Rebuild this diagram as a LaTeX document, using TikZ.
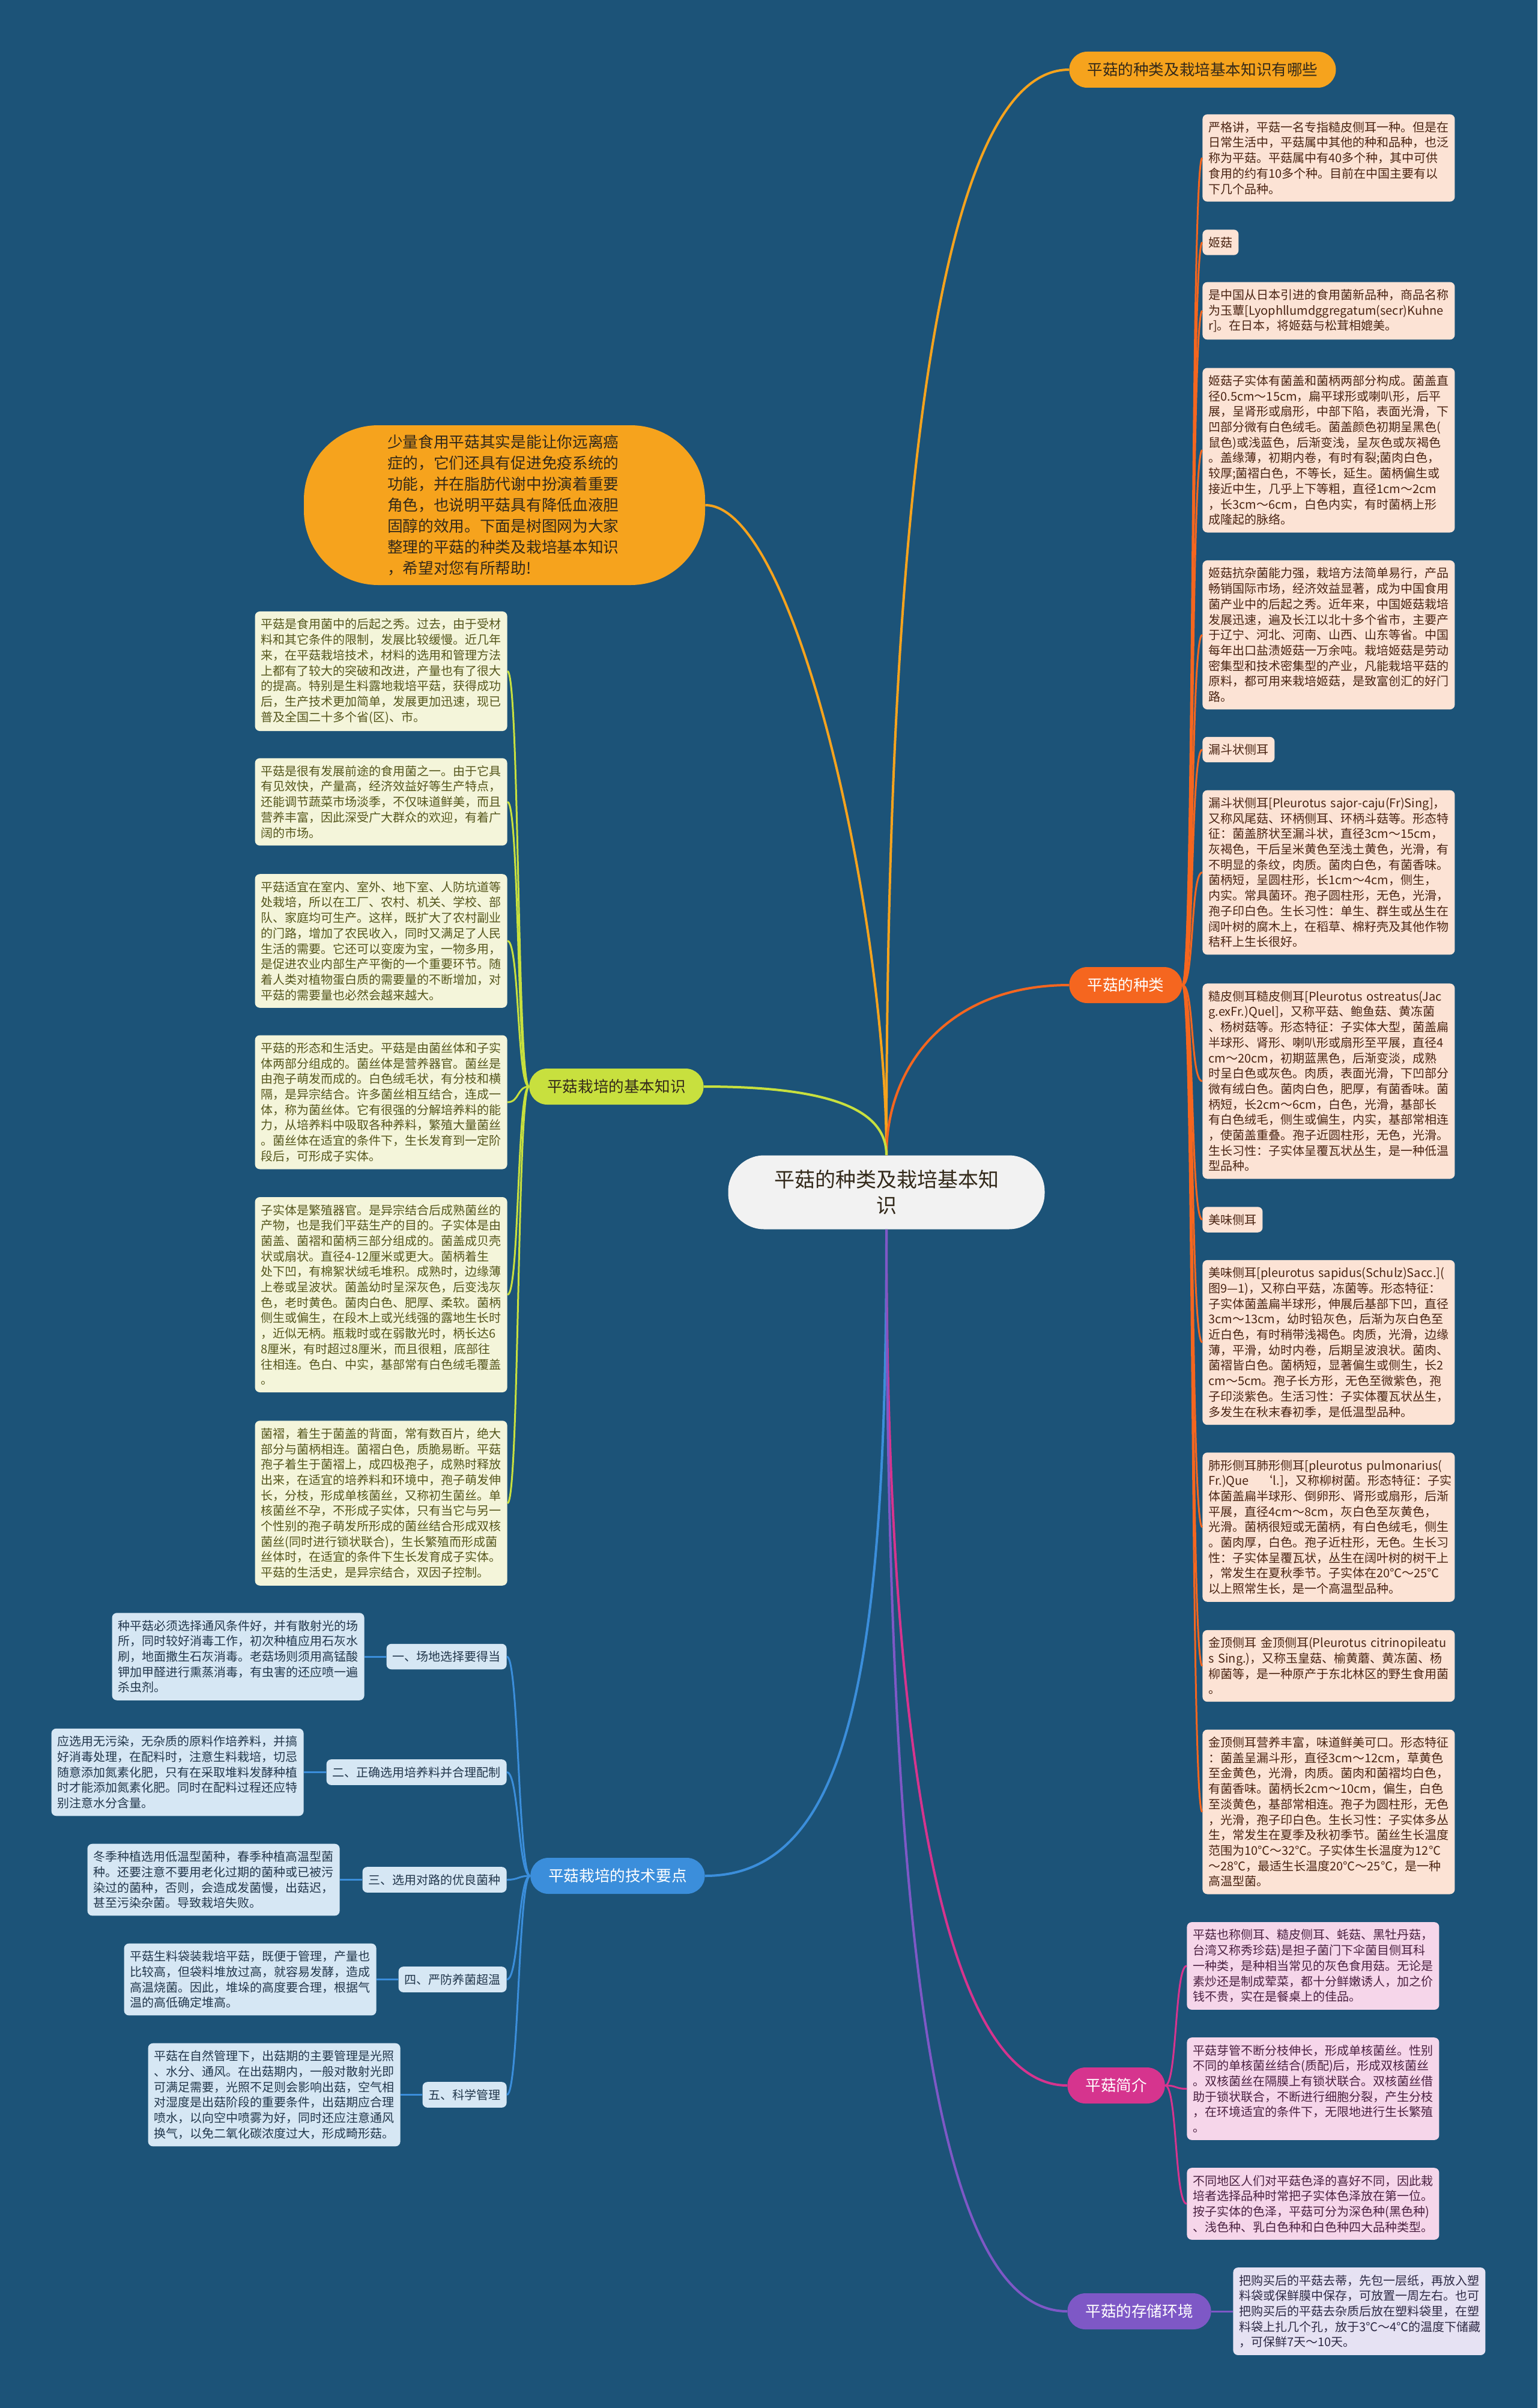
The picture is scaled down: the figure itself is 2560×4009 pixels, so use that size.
\documentclass[tikz,border=0pt]{standalone}
\usepackage{fontspec}
\setmainfont{Noto Sans CJK SC}
\definecolor{bgblue}{HTML}{1C5378}
\definecolor{amber}{HTML}{F6A31D}
\definecolor{kindred}{HTML}{F5661F}
\definecolor{peach}{HTML}{FCE3D5}
\definecolor{peachtext}{HTML}{4A2412}
\definecolor{mmlime}{HTML}{C8E03E}
\definecolor{cream}{HTML}{F4F5DA}
\definecolor{olivetext}{HTML}{55561C}
\definecolor{skyblue}{HTML}{3B8EDB}
\definecolor{iceblue}{HTML}{D6E7F4}
\definecolor{navytext}{HTML}{22374C}
\definecolor{rose}{HTML}{D6348E}
\definecolor{blush}{HTML}{F6D6EA}
\definecolor{plumtext}{HTML}{4A2040}
\definecolor{mmviolet}{HTML}{7E58C6}
\definecolor{lilac}{HTML}{E6E2F3}
\definecolor{inktext}{HTML}{2E2A45}
\definecolor{darktext}{HTML}{33291A}
\definecolor{rootgray}{HTML}{F2F2F2}
\begin{document}
\begin{tikzpicture}[x=0.5pt,y=-0.5pt,
  pill/.style={fill=#1,rounded corners=15pt,minimum height=30pt,inner xsep=15pt,inner ysep=0pt,font=\fontsize{12.8}{14}\selectfont},
  note/.style={fill=#1,rounded corners=4pt,inner xsep=5pt,inner ysep=6pt,align=left,font=\fontsize{10}{12.85}\selectfont},
  wide/.style={text width=200pt},
  rnote/.style={note=peach,text=peachtext,anchor=west},
  lnote/.style={note=cream,text=olivetext,wide,anchor=east},
  tnote/.style={note=iceblue,text=navytext,anchor=east},
  pnote/.style={note=blush,text=plumtext,wide,anchor=west},
  link/.style={draw=#1,line width=1.5pt},
  trunk/.style={draw=#1,line width=2pt}]
\fill[bgblue] (0,0) rectangle (2560,4009);
\useasboundingbox (0,0) rectangle (2560,4009);

\node[fill=rootgray,text=darktext,rounded corners=30pt,minimum width=263.5pt,minimum height=61.5pt,align=center,font=\fontsize{17}{21.5}\selectfont] (root) at (1476,1985) {平菇的种类及栽培基本知\\识};
\node[pill=amber,text=darktext,anchor=west] (ask) at (1780,116) {平菇的种类及栽培基本知识有哪些};
\node[fill=amber,text=darktext,rounded corners=62pt,minimum width=334pt,minimum height=133pt,text width=195pt,align=left,font=\fontsize{12.85}{17.5}\selectfont] (intro) at (840,841) {少量食用平菇其实是能让你远离癌\\症的，它们还具有促进免疫系统的\\功能，并在脂肪代谢中扮演着重要\\角色，也说明平菇具有降低血液胆\\固醇的效用。下面是树图网为大家\\整理的平菇的种类及栽培基本知识\\，希望对您有所帮助!};
\node[pill=kindred,text=white,anchor=west] (kind) at (1780,1640) {平菇的种类};
\node[pill=mmlime,text=darktext,anchor=east] (basic) at (1172,1809) {平菇栽培的基本知识};
\node[pill=skyblue,text=white,anchor=east] (tech) at (1174,3123) {平菇栽培的技术要点};
\node[pill=rose,text=white,anchor=west] (brief) at (1777,3472) {平菇简介};
\node[pill=mmviolet,text=white,anchor=west] (store) at (1777,3848) {平菇的存储环境};

\node[rnote,wide] (r1) at (2002,263) {严格讲，平菇一名专指糙皮侧耳一种。但是在\\日常生活中，平菇属中其他的种和品种，也泛\\称为平菇。平菇属中有40多个种，其中可供\\食用的约有10多个种。目前在中国主要有以\\下几个品种。};
\node[rnote] (r2) at (2002,403.5) {姬菇};
\node[rnote,wide] (r3) at (2002,517.5) {是中国从日本引进的食用菌新品种，商品名称\\为玉蕈[Lyophllumdggregatum(secr)Kuhne\\r]。在日本，将姬菇与松茸相媲美。};
\node[rnote,wide] (r4) at (2002,749.5) {姬菇子实体有菌盖和菌柄两部分构成。菌盖直\\径0.5cm～15cm，扁平球形或喇叭形，后平\\展，呈肾形或扇形，中部下陷，表面光滑，下\\凹部分微有白色绒毛。菌盖颜色初期呈黑色(\\鼠色)或浅蓝色，后渐变浅，呈灰色或灰褐色\\。盖缘薄，初期内卷，有时有裂;菌肉白色，\\较厚;菌褶白色，不等长，延生。菌柄偏生或\\接近中生，几乎上下等粗，直径1cm～2cm\\，长3cm～6cm，白色内实，有时菌柄上形\\成隆起的脉络。};
\node[rnote,wide] (r5) at (2002,1057) {姬菇抗杂菌能力强，栽培方法简单易行，产品\\畅销国际市场，经济效益显著，成为中国食用\\菌产业中的后起之秀。近年来，中国姬菇栽培\\发展迅速，遍及长江以北十多个省市，主要产\\于辽宁、河北、河南、山西、山东等省。中国\\每年出口盐渍姬菇一万余吨。栽培姬菇是劳动\\密集型和技术密集型的产业，凡能栽培平菇的\\原料，都可用来栽培姬菇，是致富创汇的好门\\路。};
\node[rnote] (r6) at (2002,1248) {漏斗状侧耳};
\node[rnote,wide] (r7) at (2002,1452.5) {漏斗状侧耳[Pleurotus sajor-caju(Fr)Sing]，\\又称风尾菇、环柄侧耳、环柄斗菇等。形态特\\征：菌盖脐状至漏斗状，直径3cm～15cm，\\灰褐色，干后呈米黄色至浅土黄色，光滑，有\\不明显的条纹，肉质。菌肉白色，有菌香味。\\菌柄短，呈圆柱形，长1cm～4cm，侧生，\\内实。常具菌环。孢子圆柱形，无色，光滑，\\孢子印白色。生长习性：单生、群生或丛生在\\阔叶树的腐木上，在稻草、棉籽壳及其他作物\\秸秆上生长很好。};
\node[rnote,wide] (r8) at (2002,1800) {糙皮侧耳糙皮侧耳[Pleurotus ostreatus(Jac\\g.exFr.)Quel]，又称平菇、鲍鱼菇、黄冻菌\\、杨树菇等。形态特征：子实体大型，菌盖扁\\半球形、肾形、喇叭形或扇形至平展，直径4\\cm～20cm，初期蓝黑色，后渐变淡，成熟\\时呈白色或灰色。肉质，表面光滑，下凹部分\\微有绒白色。菌肉白色，肥厚，有菌香味。菌\\柄短，长2cm～6cm，白色，光滑，基部长\\有白色绒毛，侧生或偏生，内实，基部常相连\\，使菌盖重叠。孢子近圆柱形，无色，光滑。\\生长习性：子实体呈覆瓦状丛生，是一种低温\\型品种。};
\node[rnote] (r9) at (2002,2030.5) {美味侧耳};
\node[rnote,wide] (r10) at (2002,2235) {美味侧耳[pleurotus sapidus(Schulz)Sacc.](\\图9—1)，又称白平菇，冻菌等。形态特征：\\子实体菌盖扁半球形，伸展后基部下凹，直径\\3cm～13cm，幼时铅灰色，后渐为灰白色至\\近白色，有时稍带浅褐色。肉质，光滑，边缘\\薄，平滑，幼时内卷，后期呈波浪状。菌肉、\\菌褶皆白色。菌柄短，显著偏生或侧生，长2\\cm～5cm。孢子长方形，无色至微紫色，孢\\子印淡紫色。生活习性：子实体覆瓦状丛生，\\多发生在秋末春初季，是低温型品种。};
\node[rnote,wide] (r11) at (2002,2542.5) {肺形侧耳肺形侧耳[pleurotus pulmonarius(\\Fr.)Que　‘l.]，又称柳树菌。形态特征：子实\\体菌盖扁半球形、倒卵形、肾形或扇形，后渐\\平展，直径4cm～8cm，灰白色至灰黄色，\\光滑。菌柄很短或无菌柄，有白色绒毛，侧生\\。菌肉厚，白色。孢子近柱形，无色。生长习\\性：子实体呈覆瓦状，丛生在阔叶树的树干上\\，常发生在夏秋季节。子实体在20℃～25℃\\以上照常生长，是一个高温型品种。};
\node[rnote,wide] (r12) at (2002,2773.5) {金顶侧耳 金顶侧耳(Pleurotus citrinopileatu\\s Sing.)，又称玉皇菇、榆黄蘑、黄冻菌、杨\\柳菌等，是一种原产于东北林区的野生食用菌\\。};
\node[rnote,wide] (r13) at (2002,3016.5) {金顶侧耳营养丰富，味道鲜美可口。形态特征\\：菌盖呈漏斗形，直径3cm～12cm，草黄色\\至金黄色，光滑，肉质。菌肉和菌褶均白色，\\有菌香味。菌柄长2cm～10cm，偏生，白色\\至淡黄色，基部常相连。孢子为圆柱形，无色\\，光滑，孢子印白色。生长习性：子实体多丛\\生，常发生在夏季及秋初季节。菌丝生长温度\\范围为10℃～32℃。子实体生长温度为12℃\\～28℃，最适生长温度20℃～25℃，是一种\\高温型菌。};

\node[lnote] (l1) at (845,1117.5) {平菇是食用菌中的后起之秀。过去，由于受材\\料和其它条件的限制，发展比较缓慢。近几年\\来，在平菇栽培技术，材料的选用和管理方法\\上都有了较大的突破和改进，产量也有了很大\\的提高。特别是生料露地栽培平菇，获得成功\\后，生产技术更加简单，发展更加迅速，现已\\普及全国二十多个省(区)、市。};
\node[lnote] (l2) at (845,1335) {平菇是很有发展前途的食用菌之一。由于它具\\有见效快，产量高，经济效益好等生产特点，\\还能调节蔬菜市场淡季，不仅味道鲜美，而且\\营养丰富，因此深受广大群众的欢迎，有着广\\阔的市场。};
\node[lnote] (l3) at (845,1566.5) {平菇适宜在室内、室外、地下室、人防坑道等\\处栽培，所以在工厂、农村、机关、学校、部\\队、家庭均可生产。这样，既扩大了农村副业\\的门路，增加了农民收入，同时又满足了人民\\生活的需要。它还可以变废为宝，一物多用，\\是促进农业内部生产平衡的一个重要环节。随\\着人类对植物蛋白质的需要量的不断增加，对\\平菇的需要量也必然会越来越大。};
\node[lnote] (l4) at (845,1835) {平菇的形态和生活史。平菇是由菌丝体和子实\\体两部分组成的。菌丝体是营养器官。菌丝是\\由孢子萌发而成的。白色绒毛状，有分枝和横\\隔，是异宗结合。许多菌丝相互结合，连成一\\体，称为菌丝体。它有很强的分解培养料的能\\力，从培养料中吸取各种养料，繁殖大量菌丝\\。菌丝体在适宜的条件下，生长发育到一定阶\\段后，可形成子实体。};
\node[lnote] (l5) at (845,2155.5) {子实体是繁殖器官。是异宗结合后成熟菌丝的\\产物，也是我们平菇生产的目的。子实体是由\\菌盖、菌褶和菌柄三部分组成的。菌盖成贝壳\\状或扇状。直径4-12厘米或更大。菌柄着生\\处下凹，有棉絮状绒毛堆积。成熟时，边缘薄\\上卷或呈波状。菌盖幼时呈深灰色，后变浅灰\\色，老时黄色。菌肉白色、肥厚、柔软。菌柄\\侧生或偏生，在段木上或光线强的露地生长时\\，近似无柄。瓶栽时或在弱散光时，柄长达6\\8厘米，有时超过8厘米，而且很粗，底部往\\往相连。色白、中实，基部常有白色绒毛覆盖\\。};
\node[lnote] (l6) at (845,2502.5) {菌褶，着生于菌盖的背面，常有数百片，绝大\\部分与菌柄相连。菌褶白色，质脆易断。平菇\\孢子着生于菌褶上，成四极孢子，成熟时释放\\出来，在适宜的培养料和环境中，孢子萌发伸\\长，分枝，形成单核菌丝，又称初生菌丝。单\\核菌丝不孕，不形成子实体，只有当它与另一\\个性别的孢子萌发所形成的菌丝结合形成双核\\菌丝(同时进行锁状联合)，生长繁殖而形成菌\\丝体时，在适宜的条件下生长发育成子实体。\\平菇的生活史，是异宗结合，双因子控制。};

\node[tnote] (t1) at (844,2758) {一、场地选择要得当};
\node[tnote] (t2) at (844,2950.5) {二、正确选用培养料并合理配制};
\node[tnote] (t3) at (844,3129.5) {三、选用对路的优良菌种};
\node[tnote] (t4) at (844,3295.5) {四、严防养菌超温};
\node[tnote] (t5) at (844,3487.5) {五、科学管理};
\node[tnote,wide] (s1) at (607,2758) {种平菇必须选择通风条件好，并有散射光的场\\所，同时较好消毒工作，初次种植应用石灰水\\刷，地面撒生石灰消毒。老菇场则须用高锰酸\\钾加甲醛进行熏蒸消毒，有虫害的还应喷一遍\\杀虫剂。};
\node[tnote,wide] (s2) at (506,2950.5) {应选用无污染，无杂质的原料作培养料，并搞\\好消毒处理，在配料时，注意生料栽培，切忌\\随意添加氮素化肥，只有在采取堆料发酵种植\\时才能添加氮素化肥。同时在配料过程还应特\\别注意水分含量。};
\node[tnote,wide] (s3) at (566,3129.5) {冬季种植选用低温型菌种，春季种植高温型菌\\种。还要注意不要用老化过期的菌种或已被污\\染过的菌种，否则，会造成发菌慢，出菇迟，\\甚至污染杂菌。导致栽培失败。};
\node[tnote,wide] (s4) at (627,3295.5) {平菇生料袋装栽培平菇，既便于管理，产量也\\比较高，但袋料堆放过高，就容易发酵，造成\\高温烧菌。因此，堆垛的高度要合理，根据气\\温的高低确定堆高。};
\node[tnote,wide] (s5) at (667,3487.5) {平菇在自然管理下，出菇期的主要管理是光照\\、水分、通风。在出菇期内，一般对散射光即\\可满足需要，光照不足则会影响出菇，空气相\\对湿度是出菇阶段的重要条件，出菇期应合理\\喷水，以向空中喷雾为好，同时还应注意通风\\换气，以免二氧化碳浓度过大，形成畸形菇。};

\node[pnote] (p1) at (1976,3273) {平菇也称侧耳、糙皮侧耳、蚝菇、黑牡丹菇，\\台湾又称秀珍菇)是担子菌门下伞菌目侧耳科\\一种类，是种相当常见的灰色食用菇。无论是\\素炒还是制成荤菜，都十分鲜嫩诱人，加之价\\钱不贵，实在是餐桌上的佳品。};
\node[pnote] (p2) at (1976,3477.5) {平菇芽管不断分枝伸长，形成单核菌丝。性别\\不同的单核菌丝结合(质配)后，形成双核菌丝\\。双核菌丝在隔膜上有锁状联合。双核菌丝借\\助于锁状联合，不断进行细胞分裂，产生分枝\\，在环境适宜的条件下，无限地进行生长繁殖\\。};
\node[pnote] (p3) at (1976,3669) {不同地区人们对平菇色泽的喜好不同，因此栽\\培者选择品种时常把子实体色泽放在第一位。\\按子实体的色泽，平菇可分为深色种(黑色种)\\、浅色种、乳白色种和白色种四大品种类型。};
\node[note=lilac,text=inktext,wide,anchor=west] (keep) at (2053,3848) {把购买后的平菇去蒂，先包一层纸，再放入塑\\料袋或保鲜膜中保存，可放置一周左右。也可\\把购买后的平菇去杂质后放在塑料袋里，在塑\\料袋上扎几个孔，放于3℃～4℃的温度下储藏\\，可保鲜7天～10天。};

\draw[trunk=amber] (root.north) .. controls +(0,-1000) and +(-230,0) .. (ask.west);
\draw[trunk=amber] (root.north) .. controls +(0,-400) and +(150,0) .. (intro.east);
\draw[trunk=kindred] (root.north) .. controls +(0,-150) and +(-200,0) .. (kind.west);
\draw[trunk=mmlime] (root.north) .. controls +(0,-80) and +(200,0) .. (basic.east);
\draw[trunk=skyblue] (root.south) .. controls +(0,700) and +(250,0) .. (tech.east);
\draw[trunk=rose] (root.south) .. controls +(0,900) and +(-200,0) .. (brief.west);
\draw[trunk=mmviolet] (root.south) .. controls +(0,1300) and +(-200,0) .. (store.west);
\foreach \i in {1,...,13}
  \draw[link=kindred] (kind.east) .. controls +(10pt,0) and +(-10pt,0) .. (r\i.west);
\foreach \i in {1,...,6}
  \draw[link=mmlime] (basic.west) .. controls +(-10pt,0) and +(10pt,0) .. (l\i.east);
\foreach \i in {1,...,5} {
  \draw[link=skyblue] (tech.west) .. controls +(-10pt,0) and +(10pt,0) .. (t\i.east);
  \draw[link=skyblue] (t\i.west) -- (s\i.east);
}
\foreach \i in {1,2,3}
  \draw[link=rose] (brief.east) .. controls +(10pt,0) and +(-10pt,0) .. (p\i.west);
\draw[link=mmviolet] (store.east) -- (keep.west);
\end{tikzpicture}
\end{document}
